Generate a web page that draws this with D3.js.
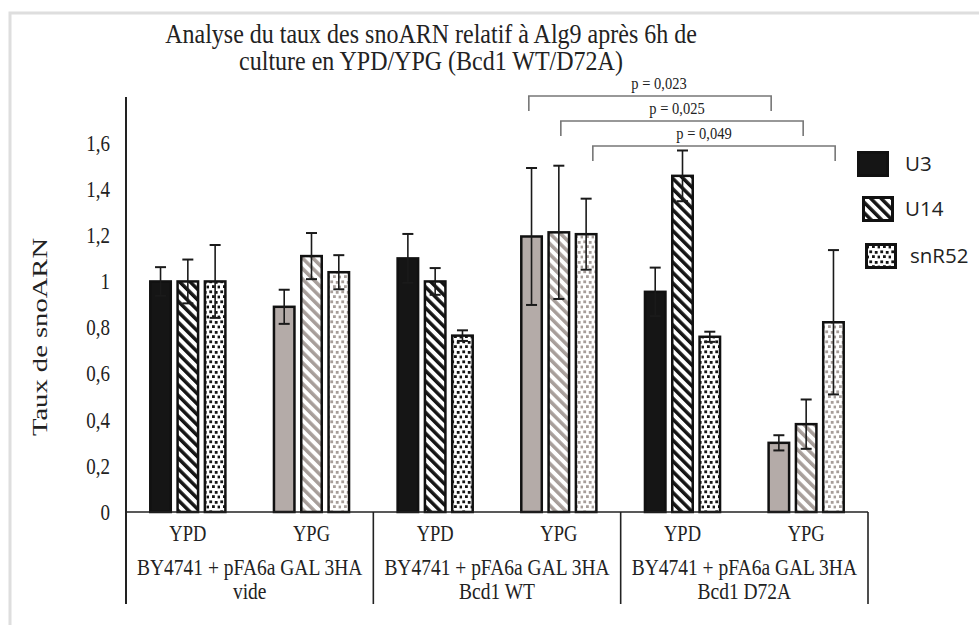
<!DOCTYPE html>
<html><head><meta charset="utf-8">
<script src="https://cdn.jsdelivr.net/npm/d3@7"></script>
<style>body{margin:0;background:#fff;} svg{display:block;}</style>
</head><body>
<svg id="chart" width="979" height="625"></svg>
<script>
// ---------------- DATA ----------------
const titleLines = ["Analyse du taux des snoARN relatif à Alg9 après 6h de", "culture en YPD/YPG (Bcd1 WT/D72A)"];
const yTitle = "Taux de snoARN";
const groupLines = [["BY4741 + pFA6a GAL 3HA", "vide"], ["BY4741 + pFA6a GAL 3HA", "Bcd1 WT"], ["BY4741 + pFA6a GAL 3HA", "Bcd1 D72A"]];
const media = ["YPD", "YPG"];
const series = ["U3", "U14", "snR52"];
// one value per (group, medium): vide-YPD, vide-YPG, WT-YPD, WT-YPG, D72A-YPD, D72A-YPG
const u3Values    = [1.00, 0.89, 1.10, 1.195, 0.955, 0.30];
const u14Values   = [1.00, 1.11, 1.00, 1.213, 1.458, 0.381];
const snr52Values = [1.00, 1.04, 0.765, 1.205, 0.76, 0.823];
const u3Err    = [0.062, 0.074, 0.106, 0.297, 0.105, 0.033];
const u14Err   = [0.095, 0.100, 0.058, 0.289, 0.110, 0.107];
const snr52Err = [0.158, 0.074, 0.023, 0.154, 0.022, 0.313];
const yTicks = [0, 0.2, 0.4, 0.6, 0.8, 1, 1.2, 1.4, 1.6];
const yMax = 1.8;
// significance brackets: from (category index, series) to (category index, series)
const pLabels = ["p = 0,023", "p = 0,025", "p = 0,049"];
const pFromCat = [3, 3, 3];
const pToCat = [5, 5, 5];
const pSeries = ["U3", "U14", "snR52"];

// ---------------- LAYOUT / STYLE ----------------
const W = 979, H = 625;
const serif = "'Liberation Serif','Times New Roman',serif";
const sans = "'Open Sans','Liberation Sans',sans-serif";
const K = 1.2; // vertical stretch of serif text
const plot = {left: 126, right: 868, top: 97, bottom: 512, axisBottom: 604};
const barW = 20.5, barPitch = 27.3;
const BLACK = "#151515", GRAY = "#b4aba8", GRAYLINE = "#a79e9a";
const pLabelShift = [9, -5, -10];

const svg = d3.select("#chart");
svg.append("rect").attr("width", W).attr("height", H).attr("fill", "#fff");
svg.append("rect").attr("x", 10).attr("y", 13).attr("width", W + 30).attr("height", H + 30)
  .attr("fill", "none").attr("stroke", "#dedede").attr("stroke-width", 3);

// patterns
const defs = svg.append("defs");
function stripes(id, color) {
  const p = defs.append("pattern").attr("id", id).attr("patternUnits", "userSpaceOnUse")
    .attr("width", 7.4).attr("height", 7.4).attr("patternTransform", "rotate(-45)");
  p.append("rect").attr("width", 7.4).attr("height", 7.4).attr("fill", "#fff");
  p.append("rect").attr("width", 3.5).attr("height", 7.4).attr("fill", color);
}
function confetti(id, color) {
  const p = defs.append("pattern").attr("id", id).attr("patternUnits", "userSpaceOnUse")
    .attr("width", 11).attr("height", 10);
  p.append("rect").attr("width", 11).attr("height", 10).attr("fill", "#fff");
  [[0.3, 0.4], [5.8, 1.0], [3.0, 5.2], [8.6, 5.6]].forEach(([x, y]) =>
    p.append("rect").attr("x", x).attr("y", y).attr("width", 2.8).attr("height", 2.8).attr("fill", color));
}
stripes("strBlack", BLACK); stripes("strGray", GRAYLINE);
confetti("dotBlack", BLACK); confetti("dotGray", GRAYLINE);
function fillFor(s, medium) {
  const dark = medium === "YPD";
  if (s === "U3") return dark ? BLACK : GRAY;
  if (s === "U14") return dark ? "url(#strBlack)" : "url(#strGray)";
  return dark ? "url(#dotBlack)" : "url(#dotGray)";
}

// scales
const cats = d3.range(groupLines.length * media.length);
const x = d3.scaleBand().domain(cats).range([plot.left, plot.right]);
const xs = d3.scalePoint().domain(series).range([-barPitch, barPitch]);
const y = d3.scaleLinear().domain([0, yMax]).range([plot.bottom, plot.top]);
const valuesBy = {U3: u3Values, U14: u14Values, snR52: snr52Values};
const errBy = {U3: u3Err, U14: u14Err, snR52: snr52Err};
const cx = (c, s) => x(c) + x.bandwidth() / 2 + xs(s);

const bars = [];
cats.forEach(c => series.forEach(s => bars.push({c, s, v: valuesBy[s][c], e: errBy[s][c], m: media[c % media.length]})));

// bars
svg.append("g").selectAll("rect").data(bars).join("rect")
  .attr("x", d => cx(d.c, d.s) - barW / 2).attr("y", d => y(d.v))
  .attr("width", barW).attr("height", d => y(0) - y(d.v))
  .attr("fill", d => fillFor(d.s, d.m)).attr("stroke", "#111").attr("stroke-width", 2.5);

// error bars
const eg = svg.append("g").attr("stroke", "#1a1a1a");
eg.selectAll("line.v").data(bars).join("line").attr("class", "v")
  .attr("x1", d => cx(d.c, d.s)).attr("x2", d => cx(d.c, d.s))
  .attr("y1", d => y(d.v + d.e)).attr("y2", d => y(d.v - d.e)).attr("stroke-width", 1.6);
["top", "bot"].forEach(k => {
  eg.selectAll("line." + k).data(bars).join("line").attr("class", k)
    .attr("x1", d => cx(d.c, d.s) - 5.5).attr("x2", d => cx(d.c, d.s) + 5.5)
    .attr("y1", d => y(k === "top" ? d.v + d.e : d.v - d.e))
    .attr("y2", d => y(k === "top" ? d.v + d.e : d.v - d.e)).attr("stroke-width", 2);
});

// axes
const yAxis = d3.axisLeft(y).tickValues(yTicks).tickSize(0).tickPadding(16)
  .tickFormat(d => String(d).replace(".", ","));
const ga = svg.append("g").attr("transform", `translate(${plot.left},0)`).call(yAxis);
ga.select(".domain").remove();
ga.selectAll("text").attr("font-family", serif).attr("font-size", 19).attr("fill", "#222")
  .attr("transform", `scale(1,${K})`).attr("dy", "0.32em");
svg.append("line").attr("x1", plot.left).attr("x2", plot.left).attr("y1", plot.top).attr("y2", plot.axisBottom)
  .attr("stroke", "#222").attr("stroke-width", 2);
svg.append("line").attr("x1", plot.left).attr("x2", plot.right).attr("y1", y(0)).attr("y2", y(0))
  .attr("stroke", "#222").attr("stroke-width", 1.6);
// group separators
const sepX = d3.range(groupLines.length + 1).map(i => i < groupLines.length ? x(i * media.length) : plot.right);
svg.append("g").selectAll("line").data(sepX.slice(1)).join("line")
  .attr("x1", d => d).attr("x2", d => d).attr("y1", y(0)).attr("y2", plot.axisBottom)
  .attr("stroke", "#222").attr("stroke-width", 1.6);

function sText(g, str, tx, ty, size, k) {
  return g.append("text").attr("transform", `translate(${tx},${ty}) scale(1,${k || K})`)
    .attr("text-anchor", "middle").attr("font-family", serif)
    .attr("font-size", size).attr("fill", "#222").text(str);
}
// category labels
cats.forEach(c => sText(svg, media[c % media.length], x(c) + x.bandwidth() / 2, 541, 18.5));
groupLines.forEach((lines, i) => {
  const gx = (sepX[i] + sepX[i + 1]) / 2;
  lines.forEach((t, j) => sText(svg, t, gx, 575 + j * 24, 19.5));
});

// title
titleLines.forEach((t, i) => sText(svg, t, 431, 43 + i * 27, 24, 1.1));
// y title
svg.append("text").attr("transform", `translate(47,337) scale(1,1.3) rotate(-90)`)
  .attr("text-anchor", "middle").attr("font-family", serif).attr("font-size", 22).attr("fill", "#222").text(yTitle);

// significance brackets
const bg = svg.append("g");
pLabels.forEach((lab, i) => {
  const si = series.indexOf(pSeries[i]);
  const x1 = x(pFromCat[i]) + x.bandwidth() / 2 + (si - 1) * 32 + 2;
  const x2 = x(pToCat[i]) + x.bandwidth() / 2 + (si - 1) * 32 - 3;
  const ly = plot.top - 1 + i * 25;
  bg.append("path").attr("d", `M${x1},${ly + 15}V${ly}H${x2}V${ly + 15}`)
    .attr("fill", "none").attr("stroke", "#777").attr("stroke-width", 1.6);
  sText(bg, lab, (x1 + x2) / 2 + pLabelShift[i], ly - 7, 14.5);
});

// legend
const legendSwatch = [[857, 151], [862, 196], [865, 243]];
const legendLabelX = [905, 905, 910];
series.forEach((s, i) => {
  const [lx, ly] = legendSwatch[i];
  svg.append("rect").attr("x", lx + 1.5).attr("y", ly + 1.5).attr("width", 29).attr("height", 23)
    .attr("fill", fillFor(s, "YPD")).attr("stroke", "#111").attr("stroke-width", 3);
  svg.append("text").attr("x", legendLabelX[i]).attr("y", ly + 13).attr("dy", "0.36em")
    .attr("font-family", sans).attr("font-size", 20.5).attr("fill", "#222").text(s);
});
</script>
</body></html>
